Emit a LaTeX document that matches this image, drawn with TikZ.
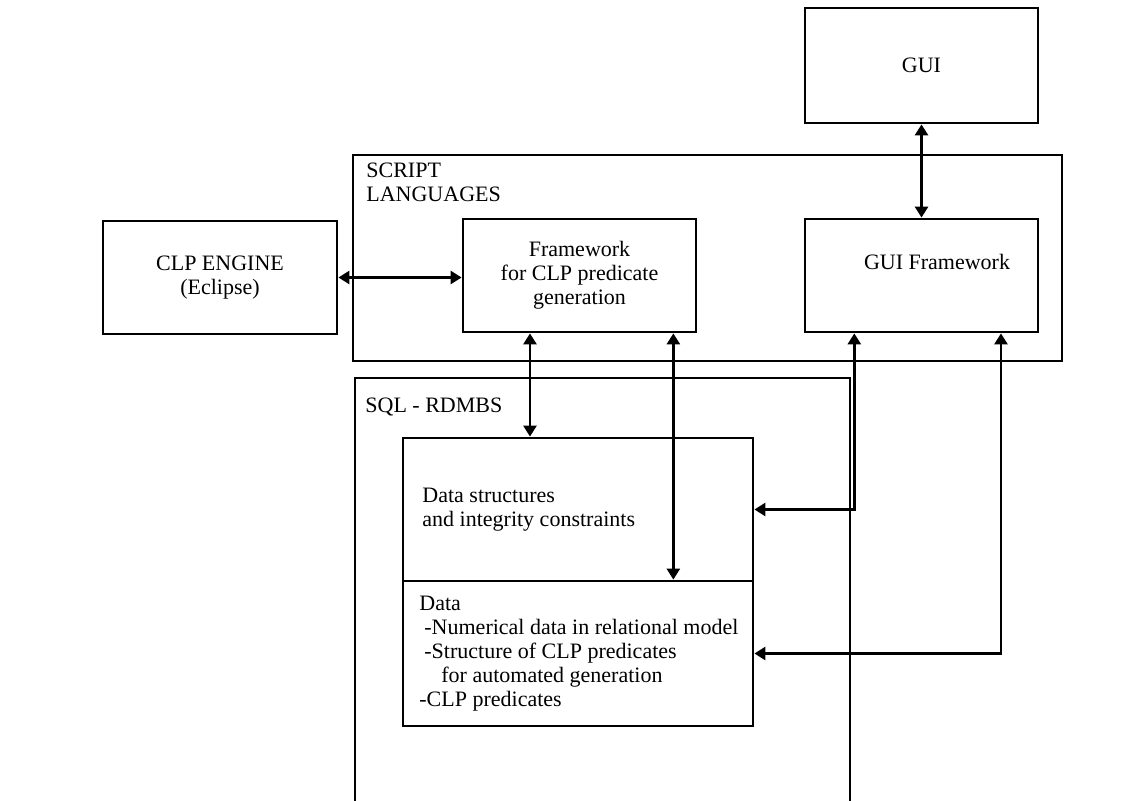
\documentclass[tikz,border=0pt]{standalone}
\usepackage{fontspec}
\setmainfont{Liberation Serif}
\usetikzlibrary{calc}
\usetikzlibrary{arrows.meta}

\begin{document}
\begin{tikzpicture}[x=0.5pt,y=-0.5pt,
        every node/.style={font=\fontsize{11}{12}\selectfont},
        box/.style={draw,line width=1.4pt,inner sep=0pt,align=center},
        txt/.style={anchor=north west,inner sep=0pt,align=left},
        link/.style={line width=1.3pt,{Triangle[length=5.5pt,width=6.5pt]}-{Triangle[length=5.5pt,width=6.5pt]}}]
            \useasboundingbox (0,0) rectangle (1145,801);
            % containers
            \node[box,minimum width=354.5pt,minimum height=103pt] (script) at (707.5,258) {};
            \node[box,minimum width=247.5pt,minimum height=226pt] (sql) at (602.5,604) {};
            \node[txt] (scripttext) at (366,163) {SCRIPT\\LANGUAGES};
            \node[txt] (sqltext) at (365,398) {SQL - RDMBS};
            % boxes
            \node[box,minimum width=116.5pt,minimum height=57.5pt] (gui) at (921.5,65.5) {GUI};
            \node[box,minimum width=117pt,minimum height=56.5pt] (clp) at (220,277.5) {CLP ENGINE\\(Eclipse)};
            \node[box,minimum width=116.5pt,minimum height=56.5pt] (fw) at (579.5,275.5) {Framework\\for CLP predicate\\generation};
            \node[box,minimum width=116.5pt,minimum height=56.5pt] (guifw) at (921.5,275.5) {};
            \node (guifwtext) at (937,262) {GUI Framework};
            \node[box,minimum width=175pt,minimum height=71.5pt] (dstruct) at (578,509.5) {};
            \node[box,minimum width=175pt,minimum height=72.5pt] (data) at (578,653.5) {};
            \node[txt] (dstructtext) at (422,488) {Data structures\\and integrity constraints};
            \node[txt] (datatext) at (419,596) {Data\\
                \hspace*{2.5pt}-Numerical data in relational model\\
                \hspace*{2.5pt}-Structure of CLP predicates\\
                \hspace*{11pt}for automated generation\\
                -CLP predicates};
            % links
            \draw[link] (clp.east) -- (clp.east -| fw.west);
            \draw[link] (gui.south) -- (guifw.north);
            \foreach \p/\r/\q in {fwa/0.29/dstruct,fwb/0.898/data} {
                \coordinate (\p) at ($(fw.south west)!\r!(fw.south east)$);
                \draw[link] (\p) -- (\p |- \q.north);
            }
            \foreach \p/\r/\q in {guia/0.215/dstruct,guib/0.837/data} {
                \coordinate (\p) at ($(guifw.south west)!\r!(guifw.south east)$);
                \draw[link] (\p) |- (\q.east);
            }
        \end{tikzpicture}
\end{document}
